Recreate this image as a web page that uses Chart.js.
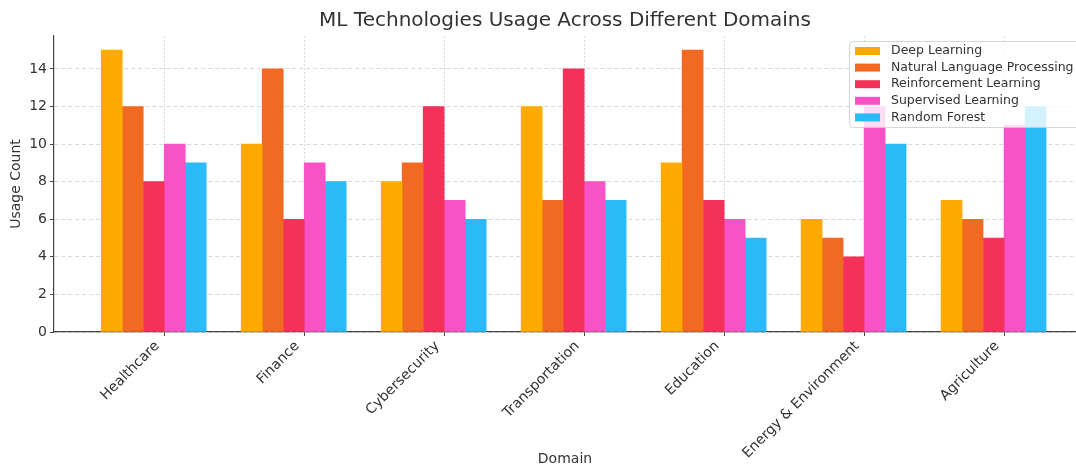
<!DOCTYPE html>
<html>
<head>
<meta charset="utf-8">
<title>ML Technologies Usage Across Different Domains</title>
<script src="https://cdn.jsdelivr.net/npm/chart.js@4.4.1/dist/chart.umd.min.js"></script>
<style>
  html, body { margin: 0; padding: 0; background: #fff; }
  #wrap { width: 1076px; height: 468px; }
</style>
</head>
<body>
<div id="wrap"><canvas id="myChart" width="1076" height="468"></canvas></div>
<script>
// domains on the x axis
const domains = ['Healthcare', 'Finance', 'Cybersecurity', 'Transportation', 'Education', 'Energy & Environment', 'Agriculture'];

// usage counts per technology
const deepLearning = [15, 10, 8, 12, 9, 6, 7];
const nlp = [12, 14, 9, 7, 15, 5, 6];
const reinforcement = [8, 6, 12, 14, 7, 4, 5];
const supervised = [10, 9, 7, 8, 6, 12, 11];
const randomForest = [9, 8, 6, 7, 5, 10, 12];

const yTicks = [0, 2, 4, 6, 8, 10, 12, 14];

const seriesNames = ['Deep Learning', 'Natural Language Processing', 'Reinforcement Learning', 'Supervised Learning', 'Random Forest'];
const seriesValues = [deepLearning, nlp, reinforcement, supervised, randomForest];
const seriesColors = ['#ffaa00', '#f26a22', '#f43158', '#f852c6', '#2bbaf8'];

const barWidth = 0.15;
const textColor = '#333';
const fontFamily = '"DejaVu Sans", Verdana, sans-serif';

// matplotlib-style offsets: bar i sits at x + (i - 2.5) * width
const datasets = seriesNames.map((name, i) => ({
  label: name,
  data: seriesValues[i].map((v, j) => ({ x: j + (i - 2.5) * barWidth, y: v })),
  backgroundColor: seriesColors[i],
  borderWidth: 0,
  grouped: false,
  categoryPercentage: 1,
  barPercentage: 1
}));

// legend box drawn on top of the plot, like the original
const overlayLegend = {
  id: 'overlayLegend',
  afterDatasetsDraw(chart) {
    const ctx = chart.ctx;
    const x = 849, y = 41, w = 260, h = 86;
    ctx.save();
    ctx.fillStyle = 'rgba(255,255,255,0.8)';
    ctx.strokeStyle = 'rgba(204,204,204,0.8)';
    ctx.lineWidth = 1;
    ctx.beginPath();
    ctx.roundRect(x + 0.5, y + 0.5, w, h, 3);
    ctx.fill();
    ctx.stroke();
    ctx.font = '12.5px ' + fontFamily;
    ctx.textBaseline = 'middle';
    chart.data.datasets.forEach((ds, i) => {
      const cy = 51 + i * 16.6;
      ctx.fillStyle = ds.backgroundColor;
      ctx.fillRect(855, cy - 4, 25, 8);
      ctx.fillStyle = textColor;
      ctx.fillText(ds.label, 891, cy);
    });
    ctx.restore();
  }
};

const ctx = document.getElementById('myChart').getContext('2d');
const chart = new Chart(ctx, {
  type: 'bar',
  data: { datasets: datasets },
  options: {
    responsive: false,
    animation: false,
    devicePixelRatio: 1,
    layout: { padding: 0 },
    plugins: {
      legend: { display: false },
      tooltip: { enabled: false },
      title: {
        display: true,
        text: 'ML Technologies Usage Across Different Domains',
        fullSize: false,
        color: textColor,
        font: { family: fontFamily, size: 20, weight: 'normal' },
        padding: { top: 9, bottom: 3 }
      }
    },
    scales: {
      x: {
        type: 'linear',
        offset: false,
        min: -0.7875,
        max: 6.514,
        afterBuildTicks: (scale) => { scale.ticks = domains.map((_, i) => ({ value: i })); },
        afterFit: (scale) => { scale.height = 136; },
        ticks: {
          callback: (v) => domains[v],
          minRotation: 45,
          maxRotation: 45,
          autoSkip: false,
          padding: 2,
          labelOffset: -7,
          color: textColor,
          font: { family: fontFamily, size: 14 }
        },
        grid: { offset: false, color: '#d9d9d9', lineWidth: 1, tickColor: '#444', tickLength: 4 },
        border: { display: true, color: '#444', width: 1.2, dash: [2, 2] },
        title: {
          display: true,
          text: 'Domain',
          color: textColor,
          font: { family: fontFamily, size: 14 },
          padding: 0
        }
      },
      y: {
        min: 0,
        max: 15.75,
        afterBuildTicks: (scale) => { scale.ticks = yTicks.map(v => ({ value: v })); },
        afterFit: (scale) => { scale.width = 54; },
        ticks: {
          includeBounds: false,
          padding: 3,
          color: textColor,
          font: { family: fontFamily, size: 14 }
        },
        grid: { color: '#d9d9d9', lineWidth: 1, tickColor: '#444', tickLength: 4 },
        border: { display: true, color: '#444', width: 1.2, dash: [4, 3] },
        title: {
          display: true,
          text: 'Usage Count',
          color: textColor,
          font: { family: fontFamily, size: 14 },
          padding: { top: 8, bottom: 0 }
        }
      }
    }
  },
  plugins: [overlayLegend]
});
</script>
</body>
</html>
